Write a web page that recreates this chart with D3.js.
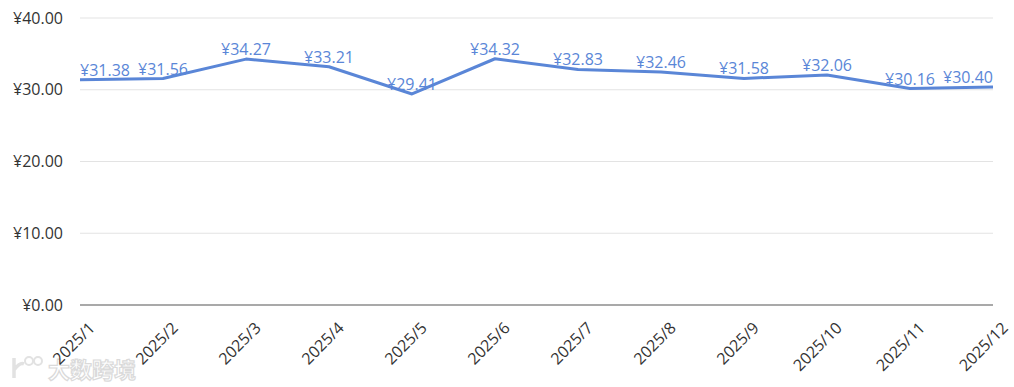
<!DOCTYPE html>
<html>
<head>
<meta charset="utf-8">
<script src="https://cdn.jsdelivr.net/npm/d3@7"></script>
<style>
  body { margin: 0; background: #fff; }
  svg text { font-family: "Open Sans", "Noto Sans CJK SC", sans-serif; }
</style>
</head>
<body>
<div id="chart"></div>
<script>
var months = ['2025/1','2025/2','2025/3','2025/4','2025/5','2025/6','2025/7','2025/8','2025/9','2025/10','2025/11','2025/12'];
var prices = [31.38, 31.56, 34.27, 33.21, 29.41, 34.32, 32.83, 32.46, 31.58, 32.06, 30.16, 30.40];
var yTicks = [0, 10, 20, 30, 40];

var W = 1014, H = 387;
var margin = {top: 18, right: 21, bottom: 82, left: 80},
    width = W - margin.left - margin.right,
    height = H - margin.top - margin.bottom;

var lineColor = '#5a86d7';
var money = function(v) { return '¥' + v.toFixed(2); };

var xScale = d3.scalePoint().domain(months).range([0, width]).padding(0);
var yScale = d3.scaleLinear().domain([0, 40]).range([height, 0]);

var svg = d3.select('#chart').append('svg')
    .attr('width', W)
    .attr('height', H);

// watermark (faint logo + text)
var wm = svg.append('g').attr('transform', 'translate(10,352)');
wm.append('path')
  .attr('d', 'M4,6 L4,26 M4,18 Q10,10 14,12')
  .style('fill', 'none').style('stroke', '#e2e2e2').style('stroke-width', 3.5);
wm.append('circle').attr('cx', 19).attr('cy', 9).attr('r', 4)
  .style('fill', 'none').style('stroke', '#e2e2e2').style('stroke-width', 2);
wm.append('circle').attr('cx', 28).attr('cy', 9).attr('r', 4)
  .style('fill', 'none').style('stroke', '#e2e2e2').style('stroke-width', 2);
wm.append('text').attr('x', 38).attr('y', 26)
  .style('font-family', '"Noto Sans CJK SC", sans-serif')
  .style('font-size', '22px').style('fill', '#fff')
  .style('stroke', '#dadada').style('stroke-width', 1.2)
  .style('font-weight', 'bold').text('大数跨境');

var g = svg.append('g').attr('transform', 'translate(' + margin.left + ',' + margin.top + ')');

// grid
g.selectAll('.grid').data(yTicks.filter(d => d > 0)).enter().append('line')
  .attr('x1', 0).attr('x2', width)
  .attr('y1', d => yScale(d)).attr('y2', d => yScale(d))
  .style('stroke', '#e3e3e3').style('stroke-width', 1);

g.append('line')
  .attr('x1', 0).attr('x2', width)
  .attr('y1', yScale(0)).attr('y2', yScale(0))
  .style('stroke', '#8c8c8c').style('stroke-width', 1.5);

// y axis labels
g.selectAll('.ylab').data(yTicks).enter().append('text')
  .attr('x', -17)
  .attr('y', d => yScale(d))
  .attr('dy', '0.35em')
  .attr('text-anchor', 'end')
  .style('font-size', '16px')
  .style('fill', '#333')
  .text(d => money(d));

// x axis labels
g.selectAll('.xlab').data(months).enter().append('text')
  .attr('transform', d => 'translate(' + (xScale(d) + 8) + ',' + (height + 16) + ') rotate(-45)')
  .attr('text-anchor', 'end')
  .attr('dy', '0.7em')
  .style('font-size', '16px')
  .style('fill', '#333')
  .text(d => d);

// line
var line = d3.line()
  .x((d, i) => xScale(months[i]))
  .y(d => yScale(d));

g.append('path')
  .datum(prices)
  .attr('d', line)
  .style('fill', 'none')
  .style('stroke', lineColor)
  .style('stroke-width', 3)
  .style('stroke-linejoin', 'round');

// value labels
g.selectAll('.vlab').data(prices).enter().append('text')
  .attr('x', (d, i) => xScale(months[i]))
  .attr('y', d => yScale(d) - 4)
  .attr('text-anchor', (d, i) => i === 0 ? 'start' : (i === prices.length - 1 ? 'end' : 'middle'))
  .style('font-size', '16px')
  .style('fill', lineColor)
  .text(d => money(d));
</script>
</body>
</html>
